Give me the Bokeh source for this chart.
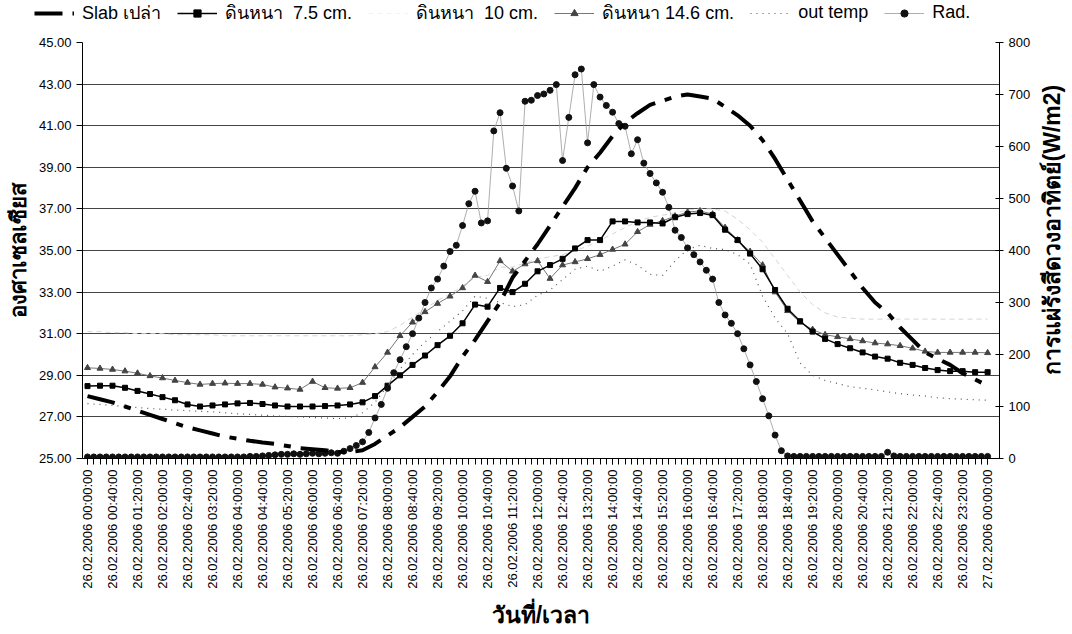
import math
from bokeh.plotting import figure
from bokeh.layouts import column, row
from bokeh.models import (Range1d, LinearAxis, FixedTicker, PrintfTickFormatter,
                          Legend, LegendItem, ColumnDataSource, Label)
from bokeh.embed import file_html
from bokeh.resources import INLINE

# ---------------- data ----------------
# temperature series sampled every 20 minutes (minutes after 26.02.2006 00:00)
t20 = list(range(0, 1441, 20))

slab = [28.0, 27.85, 27.7, 27.5, 27.3, 27.1, 26.9, 26.7, 26.5,
        26.35, 26.2, 26.05, 25.95, 25.85, 25.77, 25.7, 25.6, 25.5,
        25.45, 25.4, 25.32, 25.3, 25.4, 25.7, 26.1, 26.5, 27.0,
        27.5, 28.2, 28.95, 29.9, 30.7, 31.6, 32.5, 33.7, 34.5,
        35.3, 36.2, 37.1, 38.0, 39.0, 39.7, 40.5, 41.15, 41.6,
        42.0, 42.2, 42.4, 42.5, 42.4, 42.3, 41.9, 41.5, 41.0,
        40.3, 39.4, 38.4, 37.4, 36.4, 35.6, 34.8, 34.0, 33.2,
        32.5, 32.0, 31.3, 30.7, 30.1, 29.8, 29.5, 29.1, 28.8,
        28.5]

soil_75 = [28.48, 28.5, 28.5, 28.4, 28.25, 28.1, 27.95, 27.8, 27.6,
           27.5, 27.55, 27.6, 27.65, 27.67, 27.62, 27.55, 27.5, 27.5,
           27.5, 27.52, 27.55, 27.6, 27.7, 28.0, 28.5, 29.0, 29.5,
           29.95, 30.45, 30.9, 31.5, 32.4, 32.3, 33.2, 33.0, 33.4,
           34.0, 34.3, 34.6, 35.1, 35.5, 35.5, 36.4, 36.4, 36.35,
           36.35, 36.3, 36.6, 36.75, 36.8, 36.7, 36.0, 35.5, 34.85,
           34.1, 33.1, 32.2, 31.6, 31.1, 30.75, 30.5, 30.3, 30.1,
           29.9, 29.8, 29.6, 29.5, 29.35, 29.25, 29.2, 29.2, 29.15,
           29.15]

soil_10 = [31.1, 31.1, 31.05, 31.05, 31.0, 31.0, 31.0, 30.95, 30.95,
           30.95, 30.95, 30.9, 30.9, 30.9, 30.9, 30.9, 30.9, 30.9,
           30.9, 30.9, 30.9, 30.9, 30.95, 31.0, 31.1, 31.4, 31.8,
           32.2, 32.6, 32.9, 33.3, 33.7, 33.8, 34.2, 34.2, 34.4,
           34.6, 34.7, 34.8, 35.0, 35.2, 35.5, 35.8, 36.1, 36.4,
           36.6, 36.7, 36.8, 36.95, 37.0, 37.0, 36.9, 36.5, 36.0,
           35.4, 34.6, 33.8, 33.0, 32.4, 32.0, 31.8, 31.75, 31.7,
           31.7, 31.7, 31.7, 31.7, 31.7, 31.7, 31.7, 31.7, 31.7,
           31.7]

soil_146 = [29.36, 29.33, 29.28, 29.2, 29.1, 28.97, 28.87, 28.75, 28.65,
            28.56, 28.6, 28.62, 28.6, 28.6, 28.56, 28.43, 28.38, 28.32,
            28.7, 28.4, 28.37, 28.4, 28.65, 29.4, 30.1, 30.9, 31.55,
            32.05, 32.45, 32.8, 33.2, 33.8, 33.5, 34.5, 34.0, 34.35,
            34.5, 33.65, 34.3, 34.45, 34.6, 34.8, 35.05, 35.3, 35.9,
            36.25, 36.43, 36.65, 36.85, 36.9, 36.75, 36.1, 35.5, 34.95,
            34.3, 33.0, 32.1, 31.55, 31.2, 30.95, 30.85, 30.75, 30.65,
            30.55, 30.5, 30.42, 30.3, 30.15, 30.1, 30.1, 30.1, 30.1,
            30.08]

out_temp = [27.64, 27.6, 27.55, 27.5, 27.45, 27.4, 27.37, 27.33, 27.3,
            27.27, 27.24, 27.2, 27.15, 27.12, 27.08, 27.05, 27.02, 27.0,
            26.97, 26.95, 26.92, 26.95, 27.2, 27.7, 28.5, 29.3, 30.0,
            30.6, 31.1, 31.6, 32.1, 32.8, 32.7, 32.5, 32.3, 32.4,
            32.85, 33.1, 33.6, 34.1, 34.25, 34.0, 34.25, 34.55, 34.3,
            33.85, 33.8, 34.5, 35.05, 35.25, 35.1, 35.05, 34.8, 34.35,
            32.8, 31.75, 31.0, 29.6, 29.0, 28.75, 28.6, 28.45, 28.38,
            28.3, 28.2, 28.12, 28.05, 28.0, 27.92, 27.88, 27.85, 27.82,
            27.8]

# solar radiation sampled every 10 minutes (W/m2)
t10 = list(range(0, 1441, 10))
rad = [3, 3, 3, 3, 3, 3,
       3, 3, 3, 3, 3, 3,
       3, 3, 3, 3, 3, 3,
       3, 3, 3, 3, 3, 3,
       3, 3, 4, 4, 5, 6,
       7, 8, 8, 9, 8, 9,
       10, 9, 10, 11, 10, 14,
       19, 25, 32, 50, 78, 104,
       135, 165, 190, 215, 240, 270,
       300, 328, 345, 370, 398, 410,
       448, 490, 514, 453, 457, 630,
       665, 558, 524, 476, 687, 689,
       698, 701, 708, 719, 573, 656,
       738, 749, 607, 719, 695, 679,
       666, 644, 639, 586, 613, 568,
       548, 530, 512, 483, 439, 425,
       405, 392, 378, 362, 345, 300,
       276, 260, 240, 211, 180, 148,
       115, 82, 45, 15, 5, 4,
       4, 4, 4, 4, 4, 4,
       4, 4, 4, 4, 4, 4,
       4, 4, 12, 5, 4, 4,
       4, 4, 4, 4, 4, 4,
       4, 4, 4, 4, 4, 4,
       4]

tick_minutes = list(range(0, 1441, 40))
tick_labels = ["26.02.2006 00:00:00", "26.02.2006 00:40:00", "26.02.2006 01:20:00",
               "26.02.2006 02:00:00", "26.02.2006 02:40:00", "26.02.2006 03:20:00",
               "26.02.2006 04:00:00", "26.02.2006 04:40:00", "26.02.2006 05:20:00",
               "26.02.2006 06:00:00", "26.02.2006 06:40:00", "26.02.2006 07:20:00",
               "26.02.2006 08:00:00", "26.02.2006 08:40:00", "26.02.2006 09:20:00",
               "26.02.2006 10:00:00", "26.02.2006 10:40:00", "26.02.2006 11:20:00",
               "26.02.2006 12:00:00", "26.02.2006 12:40:00", "26.02.2006 13:20:00",
               "26.02.2006 14:00:00", "26.02.2006 14:40:00", "26.02.2006 15:20:00",
               "26.02.2006 16:00:00", "26.02.2006 16:40:00", "26.02.2006 17:20:00",
               "26.02.2006 18:00:00", "26.02.2006 18:40:00", "26.02.2006 19:20:00",
               "26.02.2006 20:00:00", "26.02.2006 20:40:00", "26.02.2006 21:20:00",
               "26.02.2006 22:00:00", "26.02.2006 22:40:00", "26.02.2006 23:20:00",
               "27.02.2006 00:00:00"]
temp_ticks = [25, 27, 29, 31, 33, 35, 37, 39, 41, 43, 45]
rad_ticks = [0, 100, 200, 300, 400, 500, 600, 700, 800]

series_names = ["Slab เปล่า", "ดินหนา  7.5 cm.", "ดินหนา  10 cm.",
                "ดินหนา 14.6 cm.", "out temp", "Rad."]
y_title = "องศาเซลเซียส"
y2_title = "การแผ่รังสีดวงอาทิตย์(W/m2)"
x_title = "วันที่/เวลา"

FONT = "Liberation Sans"

src_t = ColumnDataSource(dict(t=t20, slab=slab, s75=soil_75, s10=soil_10,
                              s146=soil_146, out=out_temp))
src_r = ColumnDataSource(dict(t=t10, rad=rad))


def add_series(fig, faint="#d4d4d4"):
    """Draw all six series on fig; return renderers for the legend."""
    r10 = fig.line("t", "s10", source=src_t, line_color=faint,
                   line_width=1, line_dash="5 4")
    rout = fig.line("t", "out", source=src_t, line_color="#555555",
                    line_width=1.2, line_dash="1 5")
    r146l = fig.line("t", "s146", source=src_t, line_color="#777777",
                     line_width=1)
    r146m = fig.scatter("t", "s146", source=src_t, marker="triangle", size=6,
                        fill_color="#444444", line_color="#444444")
    r75l = fig.line("t", "s75", source=src_t, line_color="black",
                    line_width=1.5)
    r75m = fig.scatter("t", "s75", source=src_t, marker="square", size=5,
                       fill_color="black", line_color="black")
    rradl = fig.line("t", "rad", source=src_r, y_range_name="rad",
                     line_color="#999999", line_width=0.8)
    rradm = fig.scatter("t", "rad", source=src_r, y_range_name="rad",
                        marker="circle", size=6, fill_color="#111111",
                        line_color="#111111")
    rslab = fig.line("t", "slab", source=src_t, line_color="black",
                     line_width=4, line_dash="28 10 7 10")
    return [[rslab], [r75l, r75m], [r10], [r146l, r146m], [rout],
            [rradl, rradm]]


# ---------------- main chart ----------------
p = figure(width=1036, height=600, output_backend="svg", toolbar_location=None,
           x_range=Range1d(-8, 1459), y_range=Range1d(25, 45),
           min_border_left=82, min_border_right=37, min_border_top=8,
           min_border_bottom=176)
p.outline_line_color = None
p.background_fill_color = "white"
p.border_fill_color = "white"
p.extra_y_ranges = {"rad": Range1d(0, 800)}
add_series(p)

xa = p.xaxis[0]
xa.ticker = FixedTicker(ticks=tick_minutes, minor_ticks=t10)
xa.major_label_overrides = {m: lab for m, lab in zip(tick_minutes, tick_labels)}
xa.major_label_orientation = math.pi / 2
xa.major_label_text_font = FONT
xa.major_label_text_font_size = "13px"
xa.major_label_text_color = "black"
xa.major_tick_out = 6
xa.major_tick_in = 0
xa.minor_tick_out = 6
xa.minor_tick_in = 0
xa.minor_tick_line_color = "black"
xa.major_tick_line_color = "black"
xa.axis_line_color = "black"
xa.axis_label = x_title
xa.axis_label_text_font = FONT
xa.axis_label_text_font_style = "bold"
xa.axis_label_text_font_size = "23px"
xa.axis_label_text_color = "black"
xa.axis_label_standoff = 10

ya = p.yaxis[0]
ya.ticker = FixedTicker(ticks=temp_ticks)
ya.formatter = PrintfTickFormatter(format="%.2f")
ya.major_label_text_font = FONT
ya.major_label_text_font_size = "13px"
ya.major_label_text_color = "black"
ya.major_tick_out = 6
ya.major_tick_in = 0
ya.minor_tick_line_color = None
ya.axis_line_color = "black"
ya.major_tick_line_color = "black"
ya.axis_label = y_title
ya.axis_label_text_font = FONT
ya.axis_label_text_font_style = "bold"
ya.axis_label_text_font_size = "22px"
ya.axis_label_text_color = "black"
ya.axis_label_standoff = 5

ra = LinearAxis(y_range_name="rad", ticker=FixedTicker(ticks=rad_ticks))
ra.major_label_text_font = FONT
ra.major_label_text_font_size = "13px"
ra.major_label_text_color = "black"
ra.major_tick_out = 4
ra.major_tick_in = 4
ra.minor_tick_line_color = None
ra.axis_line_color = "black"
ra.major_tick_line_color = "black"
p.add_layout(ra, "right")

p.xgrid.visible = False
p.ygrid.ticker = FixedTicker(ticks=temp_ticks)
p.ygrid.grid_line_color = "#444444"
p.ygrid.grid_line_width = 1

# ---------------- right-hand title strip ----------------
rl = figure(width=36, height=600, output_backend="svg", toolbar_location=None,
            x_range=Range1d(0, 1), y_range=Range1d(0, 1),
            x_axis_location=None, y_axis_location=None,
            min_border_left=0, min_border_right=0, min_border_top=8,
            min_border_bottom=176)
rl.outline_line_color = None
rl.xgrid.visible = False
rl.ygrid.visible = False
rl.add_layout(Label(x=0.42, y=0.55, text=y2_title, angle=math.pi / 2,
                    text_align="center", text_baseline="middle",
                    text_font=FONT, text_font_style="bold",
                    text_font_size="23px", text_color="black"))

# ---------------- legend strip (same series, drawn off-range) ----------------
lg = figure(width=1072, height=34, output_backend="svg", toolbar_location=None,
            x_range=Range1d(-1000, -990), y_range=Range1d(-1000, -990),
            x_axis_location=None, y_axis_location=None,
            min_border_left=0, min_border_right=0, min_border_top=0,
            min_border_bottom=0)
lg.outline_line_color = None
lg.xgrid.visible = False
lg.ygrid.visible = False
lg.extra_y_ranges = {"rad": Range1d(-1000, -990)}
lg_renderers = add_series(lg, faint="#f2f2f2")

legend = Legend(items=[LegendItem(label=name, renderers=rs)
                       for name, rs in zip(series_names, lg_renderers)],
                orientation="horizontal", location=(34, 7))
legend.border_line_color = None
legend.background_fill_alpha = 0
legend.padding = 0
legend.margin = 0
legend.spacing = 16
legend.glyph_width = 40
legend.glyph_height = 18
legend.label_standoff = 8
legend.label_text_font = FONT
legend.label_text_font_size = "18px"
legend.label_text_color = "black"
lg.add_layout(legend, "center")

layout = column(lg, row(p, rl, spacing=0), spacing=0)
open("out.html", "w").write(file_html(layout, INLINE))
